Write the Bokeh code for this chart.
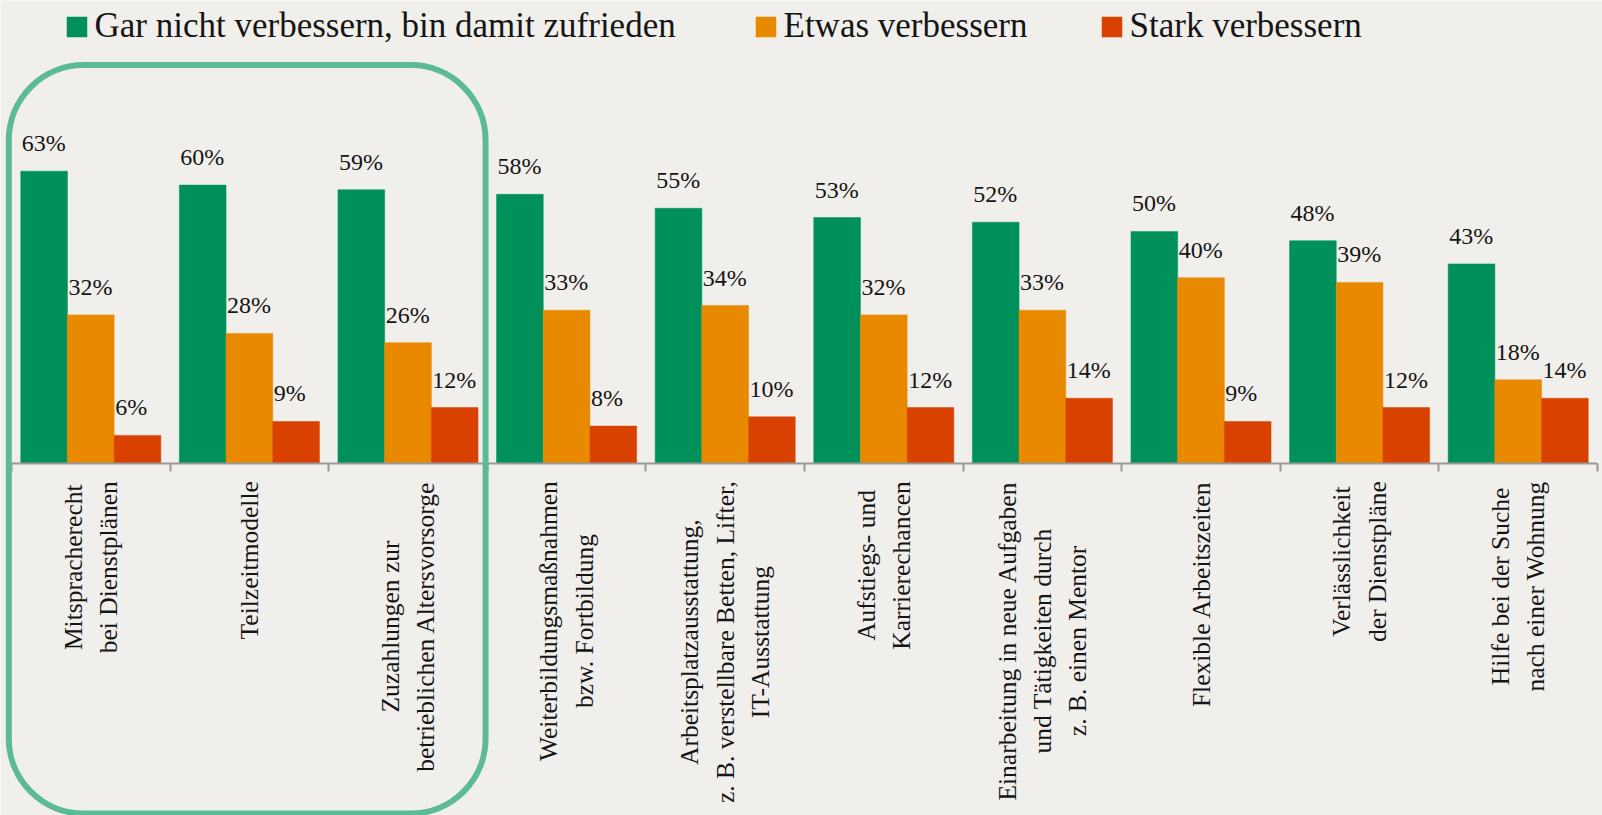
import math
from bokeh.plotting import figure
from bokeh.models import ColumnDataSource, FixedTicker, Range1d, Legend, LegendItem, BoxAnnotation
from bokeh.transform import dodge
from bokeh.core.properties import value
from bokeh.embed import file_html
from bokeh.resources import INLINE

# ---------------- data ----------------
categories = [
    "Mitspracherecht\nbei Dienstplänen",
    "Teilzeitmodelle",
    "Zuzahlungen zur\nbetrieblichen Altersvorsorge",
    "Weiterbildungsmaßnahmen\nbzw. Fortbildung",
    "Arbeitsplatzausstattung,\nz. B. verstellbare Betten, Lifter,\nIT-Ausstattung",
    "Aufstiegs- und\nKarrierechancen",
    "Einarbeitung in neue Aufgaben\nund Tätigkeiten durch\nz. B. einen Mentor",
    "Flexible Arbeitszeiten",
    "Verlässlichkeit\nder Dienstpläne",
    "Hilfe bei der Suche\nnach einer Wohnung",
]
series_names = ["Gar nicht verbessern, bin damit zufrieden", "Etwas verbessern", "Stark verbessern"]
gar_nicht = [63, 60, 59, 58, 55, 53, 52, 50, 48, 43]
etwas = [32, 28, 26, 33, 34, 32, 33, 40, 39, 18]
stark = [6, 9, 12, 8, 10, 12, 14, 9, 12, 14]
highlighted = 3  # the first three categories are framed

# ---------------- style ----------------
colors = ["#00915a", "#e98900", "#d94100"]
BG = "#f0efeb"
FRAME_GREEN = "#5cbb94"
FONT = "Liberation Serif"
TXT = "#151515"
W = 0.2944            # bar width in category units
PX_PER_CAT = 158.6    # horizontal scale (px per category)
PX_PER_PCT = 4.635    # vertical scale (px per percent)
AXIS_Y = 462.7        # px from top where the category axis sits
LEFT_PAD = 11         # px left of first category
H, WID = 815, 1602

n = len(categories)
centers = [i + 0.5 for i in range(n)]
src = ColumnDataSource(dict(
    x=centers,
    g=gar_nicht, e=etwas, s=stark,
    gl=[f"{v}%" for v in gar_nicht],
    el=[f"{v}%" for v in etwas],
    sl=[f"{v}%" for v in stark],
    cat=categories,
    zero=[0] * n,
))

x_start = -LEFT_PAD / PX_PER_CAT
x_end = (WID - LEFT_PAD) / PX_PER_CAT
y_start = -(H - AXIS_Y) / PX_PER_PCT
y_end = AXIS_Y / PX_PER_PCT

p = figure(width=WID, height=H, output_backend="svg", toolbar_location=None,
           x_range=Range1d(x_start, x_end), y_range=Range1d(y_start, y_end),
           min_border_left=0, min_border_right=0, min_border_top=0, min_border_bottom=0,
           background_fill_color=BG, border_fill_color=BG, outline_line_color=None)

renderers = []
for j, (col, lab, c) in enumerate(zip(["g", "e", "s"], ["gl", "el", "sl"], colors)):
    off = (j - 1) * W
    r = p.vbar(x=dodge("x", off), top=col, bottom=0, width=W, source=src,
               fill_color=c, line_color=c, line_width=0.5)
    renderers.append(r)
    p.text(x=dodge("x", off - W / 2), y=col, text=lab, source=src,
           x_offset=1, y_offset=-28, text_align="left", text_baseline="alphabetic",
           text_font=value(FONT), text_font_size="24px", text_color=TXT)

# category labels (rotated, lines centred, block hanging below the axis)
p.text(x="x", y="zero", text="cat", source=src, angle=math.pi / 2,
       anchor="center_right", text_align="center", y_offset=18,
       text_font=value(FONT), text_font_size="25.5px", text_line_height=1.22,
       text_color=TXT)

# axes
p.yaxis.visible = False
p.grid.visible = False
ax = p.xaxis[0]
ax.fixed_location = 0
ax.bounds = (0, n)
ax.ticker = FixedTicker(ticks=[], minor_ticks=list(range(n + 1)))
ax.major_tick_in = 0
ax.major_tick_out = 0
ax.minor_tick_in = 0
ax.minor_tick_out = 8
ax.minor_tick_line_color = "#999999"
ax.minor_tick_line_width = 2
ax.axis_line_color = "#999999"
ax.axis_line_width = 2

# highlight frame around the first three categories
box = BoxAnnotation(left=-0.017, right=highlighted - 0.011, top=85.9, bottom=-75.6,
                    fill_alpha=0, line_color=FRAME_GREEN, line_alpha=1, line_width=6,
                    border_radius=75, level="overlay")
p.add_layout(box)

# legends, one per series
legend_x = [63.5, 752.5, 1098.5]
for name, r, lx in zip(series_names, renderers, legend_x):
    lg = Legend(items=[LegendItem(label=name, renderers=[r])], location=(lx, 769),
                orientation="horizontal", padding=0, margin=0, spacing=0,
                border_line_color=None, background_fill_alpha=0,
                glyph_width=25, glyph_height=25, label_standoff=6,
                label_text_font=FONT, label_text_font_size="35px", label_text_color=TXT)
    p.add_layout(lg)

open("out.html", "w").write(file_html(p, INLINE))
